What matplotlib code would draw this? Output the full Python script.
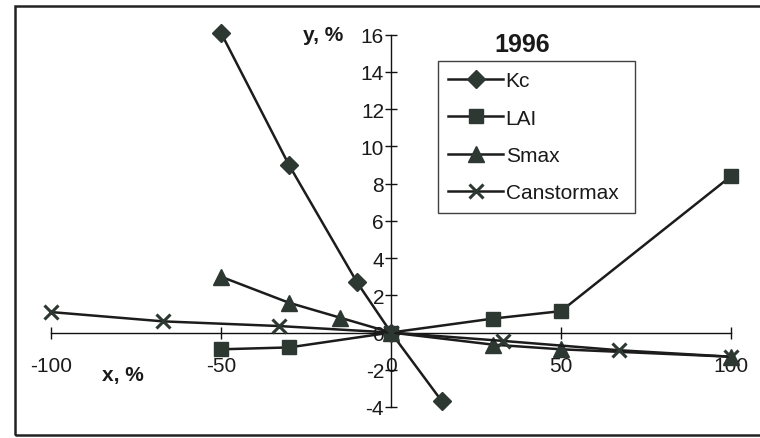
import matplotlib
matplotlib.use("Agg")
import matplotlib.pyplot as plt
from matplotlib.patches import Rectangle
from matplotlib.transforms import ScaledTranslation

plt.rcParams['font.family'] = ['Liberation Sans', 'DejaVu Sans']

# Sensitivity of y (%) to parameter change x (%)
kc_x = [-50, -30, -10, 0, 15]
kc_y = [16.1, 9.0, 2.7, 0.0, -3.7]

lai_x = [-50, -30, 0, 30, 50, 100]
lai_y = [-0.9, -0.8, 0.0, 0.75, 1.15, 8.4]

smax_x = [-50, -30, -15, 0, 30, 50, 100]
smax_y = [3.0, 1.6, 0.8, 0.0, -0.65, -0.9, -1.3]

can_x = [-100, -67, -33, 0, 33, 67, 100]
can_y = [1.1, 0.6, 0.35, 0.0, -0.45, -0.95, -1.3]

x_ticks = [-100, -50, 0, 50, 100]
y_ticks = [-4, -2, 0, 2, 4, 6, 8, 10, 12, 14, 16]

W, H = 760, 439
fig = plt.figure(figsize=(W / 100, H / 100), dpi=100)
ax = fig.add_axes([51 / W, (H - 408) / H, 680 / W, (408 - 35.7) / H])

line_c = '#1c1c1c'
mark_c = '#2e3833'
lw = 1.8
fs = 15

common = dict(color=line_c, lw=lw, clip_on=False, zorder=4)
ax.plot(kc_x, kc_y, marker='D', ms=9, mfc=mark_c, mec=mark_c,
        label='Kc', **common)
ax.plot(lai_x, lai_y, marker='s', ms=10.5, mfc=mark_c, mec=mark_c,
        label='LAI', **common)
ax.plot(smax_x, smax_y, marker='^', ms=11, mfc=mark_c, mec=mark_c,
        label='Smax', **common)
ax.plot(can_x, can_y, marker='x', ms=10, mew=2.2, mec=mark_c,
        label='Canstormax', **common)

ax.set_xlim(-100, 100)
ax.set_ylim(-4, 16)
ax.spines['left'].set_position(('data', 0))
ax.spines['bottom'].set_position(('data', 0))
ax.spines['top'].set_visible(False)
ax.spines['right'].set_visible(False)
for s in ('left', 'bottom'):
    ax.spines[s].set_linewidth(1.0)
    ax.spines[s].set_color('#111111')

ax.set_xticks(x_ticks)
ax.set_yticks(y_ticks)
ax.set_xticklabels([str(v) for v in x_ticks])
ax.set_yticklabels([str(v) for v in y_ticks])
ax.tick_params(axis='both', direction='inout', length=8, width=1.0,
               colors='#111111', labelsize=fs, labelcolor='#1a1a1a')
ax.tick_params(axis='x', pad=13)
ax.tick_params(axis='y', pad=1)
ax.patch.set_alpha(0)

ax.text(0.0, 16.0, 'y, %', fontsize=fs, fontweight='bold', ha='right',
        va='center', color='#1a1a1a',
        transform=ax.transData + ScaledTranslation(-0.48, 0, fig.dpi_scale_trans))
ax.text(-79, -2.25, 'x, %', fontsize=fs, fontweight='bold', ha='center',
        va='center', color='#1a1a1a')
ax.text(38.5, 15.5, '1996', fontsize=18, fontweight='bold', ha='center',
        va='center', color='#1a1a1a')

leg = ax.legend(loc='upper left',
                bbox_to_anchor=(438 / W, (H - 62) / H, (635 - 438) / W, 0.0001),
                bbox_transform=fig.transFigure, mode='expand',
                fontsize=fs, frameon=True, fancybox=False, borderaxespad=0,
                handlelength=2.6, handletextpad=0.15, labelspacing=0.88,
                borderpad=0.5)
leg.get_frame().set_edgecolor('#111111')
leg.get_frame().set_linewidth(1.0)
for t in leg.get_texts():
    t.set_color('#1a1a1a')

# outer chart border
fig.patches.append(Rectangle((15 / W, 3 / H), 1.2, (436 - 7) / H,
                             transform=fig.transFigure, fill=False,
                             lw=1.8, edgecolor='#222222'))

fig.savefig('out.png', dpi=100)
